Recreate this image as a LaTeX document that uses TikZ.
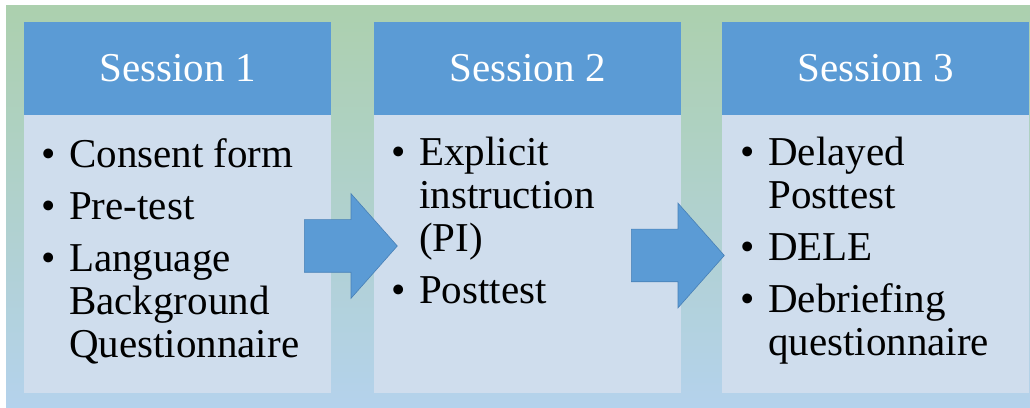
\documentclass[tikz,border=0pt]{standalone}
\usepackage{fontspec}
\setmainfont{Liberation Serif}
\usepackage{tikz}
\usetikzlibrary{positioning, shapes.arrows}
\usepackage{xcolor}
\definecolor{sessblue}{RGB}{91,155,213}
\definecolor{sessedge}{RGB}{72,128,182}
\definecolor{sesslight}{RGB}{207,221,237}
\definecolor{bggreen}{RGB}{172,208,174}
\definecolor{bgblue}{RGB}{180,210,236}
\newcommand{\itm}{\llap{\textbullet\hspace{13pt}}}

\begin{document}
\begin{tikzpicture}[
    x=1pt, y=1pt,
    head/.style={rectangle, fill=sessblue, inner sep=0pt, outer sep=0pt,
                 minimum width=307pt, minimum height=93pt, text=white,
                 font=\fontsize{41}{43}\selectfont},
    body/.style={rectangle, fill=sesslight, inner sep=0pt, outer sep=0pt,
                 minimum width=307pt, minimum height=278pt},
    items/.style={anchor=north west, align=left, inner sep=0pt,
                  font=\fontsize{41}{43}\selectfont},
    blockarr/.style={single arrow, fill=sessblue, draw=sessedge, line width=0.6pt,
                     inner xsep=0pt, inner ysep=26pt, minimum height=93pt,
                     single arrow head extend=26pt, single arrow tip angle=97,
                     anchor=tail},
]
    \useasboundingbox (0,0) rectangle (1030,407);
    % Backdrop
    \fill[top color=bggreen, bottom color=bgblue] (6,0) rectangle (1030,401);

    % Row 1: Session headers
    \node[head] (h1) at (177.5,338.5) {Session 1};
    \node[head, right=43pt of h1] (h2) {Session 2};
    \node[head, right=41pt of h2] (h3) {Session 3};

    % Row 2: Session contents
    \node[body, below=0pt of h1] (b1) {};
    \node[body, below=0pt of h2] (b2) {};
    \node[body, below=0pt of h3] (b3) {};

    \node[items] (t1) at ([shift={(45pt,-23pt)}]b1.north west)
        {\itm Consent form\\[9pt]
         \itm Pre-test\\[9pt]
         \itm Language\\
         Background\\
         Questionnaire};
    \node[items] (t2) at ([shift={(45pt,-22pt)}]b2.north west)
        {\itm Explicit\\
         instruction\\
         (PI)\\[9pt]
         \itm Posttest};
    \node[items] (t3) at ([shift={(46pt,-22pt)}]b3.north west)
        {\itm Delayed\\
         Posttest\\[9pt]
         \itm DELE\\[9pt]
         \itm Debriefing\\
         questionnaire};

    % Arrows between sessions
    \node[blockarr] (a1) at (304,161) {};
    \node[blockarr] (a2) at (631,151.5) {};
\end{tikzpicture}
\end{document}
